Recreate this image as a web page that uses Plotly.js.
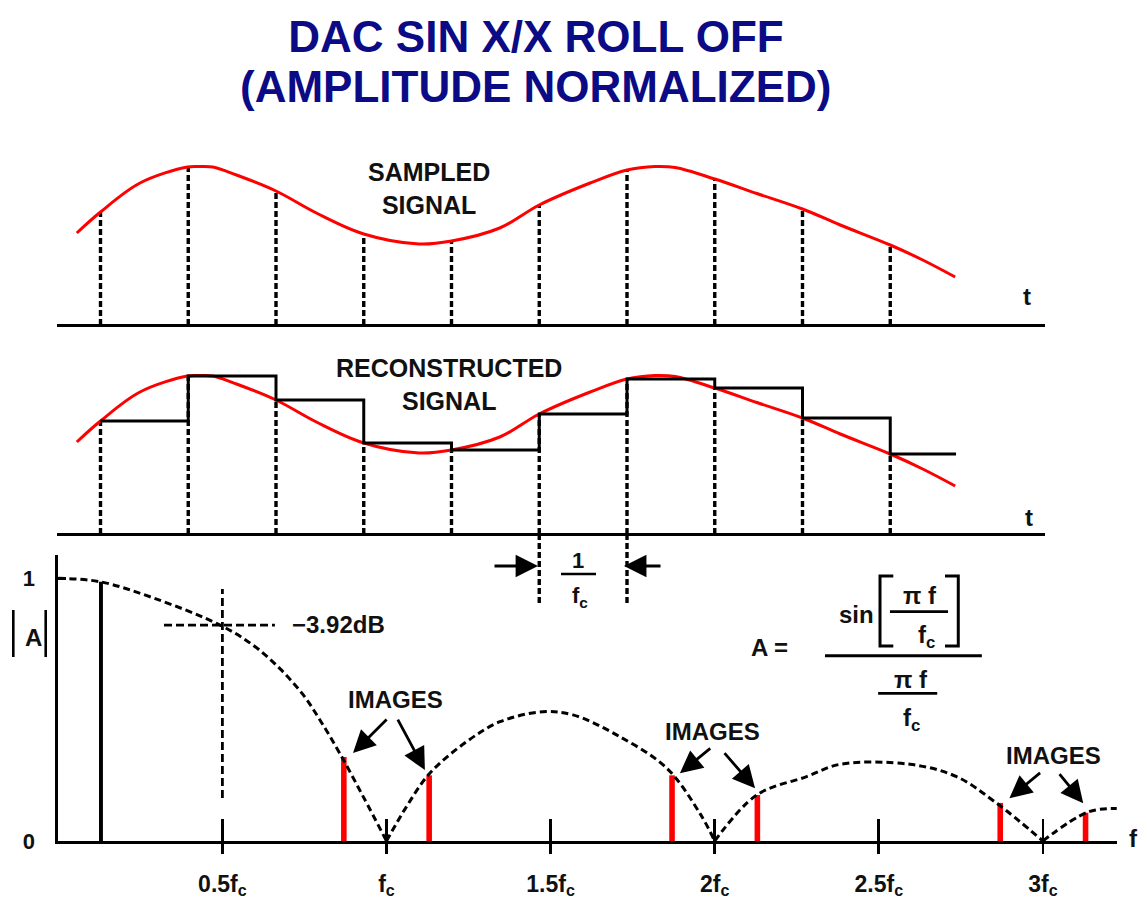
<!DOCTYPE html>
<html><head><meta charset="utf-8">
<script src="https://cdn.plot.ly/plotly-3.0.1.min.js"></script>
<style>html,body{margin:0;padding:0;background:#fff}</style>
</head><body>
<div id="chart" style="width:1138px;height:905px"></div>
<script>
// ---------------- data ----------------
// time panels: sample index (sampling period units) and signal amplitude
const sampleT = [1, 2, 3, 4, 5, 6, 7, 8, 9, 10];
const sampleV = [1.13, 1.58, 1.34, 0.91, 0.84, 1.20, 1.55, 1.46, 1.16, 0.80];
const holdEndT = 10.75;
const signalT = [0.73, 1.0, 1.45, 1.99, 2.13, 2.28, 2.55, 3.0, 3.46, 4.0, 4.63, 5.0, 5.55, 6.0, 6.58, 7.0, 7.32, 7.55, 8.0, 8.48, 9.0, 9.43, 10.0, 10.37, 10.74];
const signalV = [0.92, 1.13, 1.42, 1.58, 1.585, 1.58, 1.50, 1.34, 1.12, 0.91, 0.81, 0.84, 0.97, 1.20, 1.42, 1.55, 1.585, 1.575, 1.46, 1.315, 1.16, 1.00, 0.80, 0.65, 0.48];
const periodMarkT = [6, 7];

// frequency panel: f / fc and |A|
const sincF = [0, 0.127, 0.29, 0.493, 0.594, 0.676, 0.747, 0.80, 0.858, 0.929, 1.0,
               1.061, 1.132, 1.244, 1.346, 1.477, 1.568, 1.701, 1.854, 1.955, 2.0,
               2.128, 2.28, 2.382, 2.595, 2.737, 2.859, 3.0,
               3.137, 3.225];
const sincA = [1.0, 0.987, 0.925, 0.822, 0.745, 0.655, 0.555, 0.455, 0.333, 0.169, 0,
               0.131, 0.258, 0.378, 0.454, 0.492, 0.48, 0.404, 0.277, 0.105, 0,
               0.175, 0.245, 0.292, 0.292, 0.245, 0.144, 0,
               0.11, 0.124];
const fundF = [0.13];
const fundA = [0.987];
const imageF = [0.87, 1.13, 1.87, 2.13, 2.87, 3.13];
const imageA = [0.32, 0.25, 0.25, 0.175, 0.145, 0.108];

const freqTickVals = [0.5, 1, 1.5, 2, 2.5, 3];
const freqTickText = ['0.5f<sub>c</sub>', 'f<sub>c</sub>', '1.5f<sub>c</sub>', '2f<sub>c</sub>', '2.5f<sub>c</sub>', '3f<sub>c</sub>'];
const ampTickVals = [0, 1];
const ampTickText = ['0', '1'];

// ---------------- helpers ----------------
const FONT = 'Liberation Sans, Arial, Helvetica, sans-serif';
const RED = 'rgb(255,0,0)';
function stems(xs, y0s, y1s) {
  const x = [], y = [];
  xs.forEach((v, i) => { x.push(v, v, null); y.push(y0s[i], y1s[i], null); });
  return {x, y};
}
const zeros = sampleT.map(() => 0);
const DASH_V = {color: '#000', width: 3.4, dash: '6px,3px'};

// panel 1
const st1 = stems(sampleT, zeros, sampleV);
const traces = [];
traces.push({x: st1.x, y: st1.y, xaxis: 'x', yaxis: 'y', mode: 'lines', line: DASH_V});
traces.push({x: signalT, y: signalV, xaxis: 'x', yaxis: 'y', mode: 'lines',
  line: {color: RED, width: 3, shape: 'spline', smoothing: 1}});

// panel 2
const st2 = stems(sampleT, zeros, sampleV);
traces.push({x: st2.x, y: st2.y, xaxis: 'x2', yaxis: 'y2', mode: 'lines', line: DASH_V});
const pm = stems(periodMarkT, periodMarkT.map(() => 0), periodMarkT.map(() => -0.69));
traces.push({x: pm.x, y: pm.y, xaxis: 'x2', yaxis: 'y2', mode: 'lines', line: DASH_V});
traces.push({x: signalT, y: signalV, xaxis: 'x2', yaxis: 'y2', mode: 'lines',
  line: {color: RED, width: 3, shape: 'spline', smoothing: 1}});
traces.push({x: sampleT.concat([holdEndT]), y: sampleV.concat([sampleV[sampleV.length - 1]]),
  xaxis: 'x2', yaxis: 'y2', mode: 'lines', line: {color: '#000', width: 3, shape: 'hv'}});

// panel 3
const lobes = [];
let cur = {x: [], y: []};
sincF.forEach((f, i) => {
  cur.x.push(f); cur.y.push(sincA[i]);
  if (sincA[i] === 0 && cur.x.length > 1) { lobes.push(cur); cur = {x: [f], y: [0]}; }
});
if (cur.x.length > 1) lobes.push(cur);
lobes.forEach(l => traces.push({x: l.x, y: l.y, xaxis: 'x3', yaxis: 'y3', mode: 'lines',
  line: {color: '#000', width: 3, dash: '7px,4px', shape: 'spline', smoothing: 1}}));
traces.push({type: 'bar', x: fundF, y: fundA, xaxis: 'x3', yaxis: 'y3', width: 0.012,
  marker: {color: '#000', line: {width: 0}}});
traces.push({type: 'bar', x: imageF, y: imageA, xaxis: 'x3', yaxis: 'y3', width: 0.017,
  marker: {color: RED, line: {width: 0}}});
// overlay axis carrying the below-axis half of the tick marks
traces.push({x: freqTickVals, y: freqTickVals.map(() => 0), xaxis: 'x4', yaxis: 'y3', mode: 'none', hoverinfo: 'skip'});

// ---------------- layout ----------------
const W = 1138, H = 905;
const px = v => v / W, py = v => 1 - v / H;
const hidden = {showline: false, showticklabels: false, ticks: '', showgrid: false, zeroline: false, fixedrange: true};
const tDomain = [px(57), px(1045)];
const tRange = [0.5043, 11.7635];

function txt(text, x, y, xref, yref, size, extra) {
  return Object.assign({text, x, y, xref, yref, showarrow: false, xanchor: 'center', yanchor: 'middle',
    font: {family: FONT, size: size || 24, color: '#111', weight: 'bold'}}, extra || {});
}
function arrow(x, y, ax, ay, xref, yref) {
  return {x, y, ax, ay, xref, yref, axref: xref, ayref: yref, text: '', showarrow: true,
    arrowhead: 2, arrowsize: 1.6, arrowwidth: 2.8, arrowcolor: '#000', standoff: 0, startstandoff: 0};
}
function seg(x0, y0, x1, y1, xref, yref, w, dash) {
  return {type: 'line', x0, y0, x1, y1, xref, yref, line: {color: '#000', width: w || 3, dash: dash || 'solid'}};
}

const annotations = [
  txt('(AMPLITUDE NORMALIZED)', px(536), py(86), 'paper', 'paper', 44, {font: {family: FONT, size: 44, color: '#0b0b85', weight: 'bold'}}),
  txt('SAMPLED<br>SIGNAL', 4.743, 1.37, 'x', 'y', 25),
  txt('t', 11.554, 0.283, 'x', 'y', 24),
  txt('RECONSTRUCTED<br>SIGNAL', 4.971, 1.50, 'x2', 'y2', 25),
  txt('t', 11.58, 0.17, 'x2', 'y2', 24),
  // 1/fc period marker
  txt('1', 6.442, -0.26, 'x2', 'y2', 22),
  txt('f<sub>c</sub>', 6.464, -0.63, 'x2', 'y2', 22),
  arrow(5.986, -0.32, 5.473, -0.32, 'x2', 'y2'),
  arrow(6.966, -0.32, 7.399, -0.32, 'x2', 'y2'),
  // frequency panel
  txt('−3.92dB', 0.707, 0.826, 'x3', 'y3', 24, {xanchor: 'left'}),
  txt('IMAGES', 1.026, 0.537, 'x3', 'y3', 24),
  arrow(0.898, 0.335, 1.005, 0.468, 'x3', 'y3'),
  arrow(1.117, 0.27, 1.032, 0.468, 'x3', 'y3'),
  txt('IMAGES', 1.992, 0.415, 'x3', 'y3', 24),
  arrow(1.894, 0.258, 1.991, 0.357, 'x3', 'y3'),
  arrow(2.123, 0.201, 2.026, 0.340, 'x3', 'y3'),
  txt('IMAGES', 3.031, 0.327, 'x3', 'y3', 24),
  arrow(2.898, 0.163, 2.996, 0.264, 'x3', 'y3'),
  arrow(3.123, 0.144, 3.047, 0.26, 'x3', 'y3'),
  // formula
  txt('A =', 2.168, 0.735, 'x3', 'y3', 24),
  txt('sin', 2.432, 0.864, 'x3', 'y3', 24),
  txt('π f', 2.625, 0.936, 'x3', 'y3', 24),
  txt('f<sub>c</sub>', 2.644, 0.778, 'x3', 'y3', 24),
  txt('π f', 2.598, 0.613, 'x3', 'y3', 24),
  txt('f<sub>c</sub>', 2.60, 0.461, 'x3', 'y3', 24),
  // axis labels
  txt('A', px(33.3), py(637), 'paper', 'paper', 24),
  txt('f', px(1133), py(838), 'paper', 'paper', 24)
];

const shapes = [
  // -3.92 dB crosshair
  seg(0.5, 0.164, 0.5, 0.959, 'x3', 'y3', 2.8, '8px,4px'),
  seg(0.322, 0.822, 0.660, 0.822, 'x3', 'y3', 2.8, '8px,4px'),
  // 1/fc fraction bar
  seg(6.248, -0.40, 6.647, -0.40, 'x2', 'y2', 2.6),
  // formula bars and brackets
  seg(2.336, 0.705, 2.814, 0.705, 'x3', 'y3', 3),
  seg(2.534, 0.873, 2.711, 0.873, 'x3', 'y3', 2.6),
  seg(2.498, 0.562, 2.678, 0.562, 'x3', 'y3', 2.6),
  {type: 'path', xref: 'x3', yref: 'y3', path: 'M2.5442,1.0088 L2.5037,1.0088 L2.5037,0.7423 L2.5442,0.7423', line: {color: '#000', width: 3}},
  {type: 'path', xref: 'x3', yref: 'y3', path: 'M2.7017,1.0088 L2.7422,1.0088 L2.7422,0.7423 L2.7017,0.7423', line: {color: '#000', width: 3}},
  // |A| bars
  seg(px(13.3), py(610), px(13.3), py(657), 'paper', 'paper', 2.6),
  seg(px(45.7), py(610), px(45.7), py(657), 'paper', 'paper', 2.6)
];

const layout = {
  width: W, height: H,
  margin: {l: 0, r: 0, t: 0, b: 0, pad: 0},
  paper_bgcolor: '#fff', plot_bgcolor: 'rgba(0,0,0,0)',
  showlegend: false, hovermode: false, barmode: 'overlay',
  font: {family: FONT, color: '#111'},
  title: {text: 'DAC SIN X/X ROLL OFF',
    font: {family: FONT, size: 44, color: '#0b0b85', weight: 'bold'},
    xref: 'paper', x: px(536), xanchor: 'center', yref: 'container', y: py(37), yanchor: 'middle'},
  xaxis: Object.assign({}, hidden, {domain: tDomain, range: tRange, anchor: 'y'}),
  yaxis: Object.assign({}, hidden, {domain: [py(335), py(140)], range: [-0.10, 1.85], anchor: 'x',
    zeroline: true, zerolinecolor: '#000', zerolinewidth: 3}),
  xaxis2: Object.assign({}, hidden, {domain: tDomain, range: tRange, anchor: 'y2'}),
  yaxis2: Object.assign({}, hidden, {domain: [py(610), py(349)], range: [-0.76, 1.85], anchor: 'x2',
    zeroline: true, zerolinecolor: '#000', zerolinewidth: 3}),
  xaxis3: {domain: [px(58.3), px(1117)], range: [0, 3.2258], anchor: 'y3', fixedrange: true,
    showgrid: false, zeroline: false, showline: true, linecolor: '#000', linewidth: 3,
    tickmode: 'array', tickvals: freqTickVals, ticktext: freqTickText,
    ticks: 'inside', ticklen: 22, tickwidth: 2.6, tickcolor: '#000',
    ticklabelstandoff: 20, tickfont: {family: FONT, size: 23, color: '#111', weight: 'bold'}},
  xaxis4: {overlaying: 'x3', anchor: 'y3', range: [0, 3.2258], fixedrange: true,
    showgrid: false, zeroline: false, showline: false, showticklabels: false,
    tickmode: 'array', tickvals: freqTickVals, ticks: 'outside', ticklen: 12, tickwidth: 2.6, tickcolor: '#000'},
  yaxis3: {domain: [py(841), py(555)], range: [0, 1.0887], anchor: 'x3', fixedrange: true,
    showgrid: false, zeroline: false, showline: true, linecolor: '#000', linewidth: 3,
    tickmode: 'array', tickvals: ampTickVals, ticktext: ampTickText,
    ticks: 'inside', ticklen: 8, tickwidth: 2.6, tickcolor: '#000',
    ticklabelstandoff: 16, tickfont: {family: FONT, size: 22, color: '#111', weight: 'bold'}},
  annotations, shapes
};

Plotly.newPlot('chart', traces, layout, {staticPlot: true, displayModeBar: false});
</script>
</body></html>
